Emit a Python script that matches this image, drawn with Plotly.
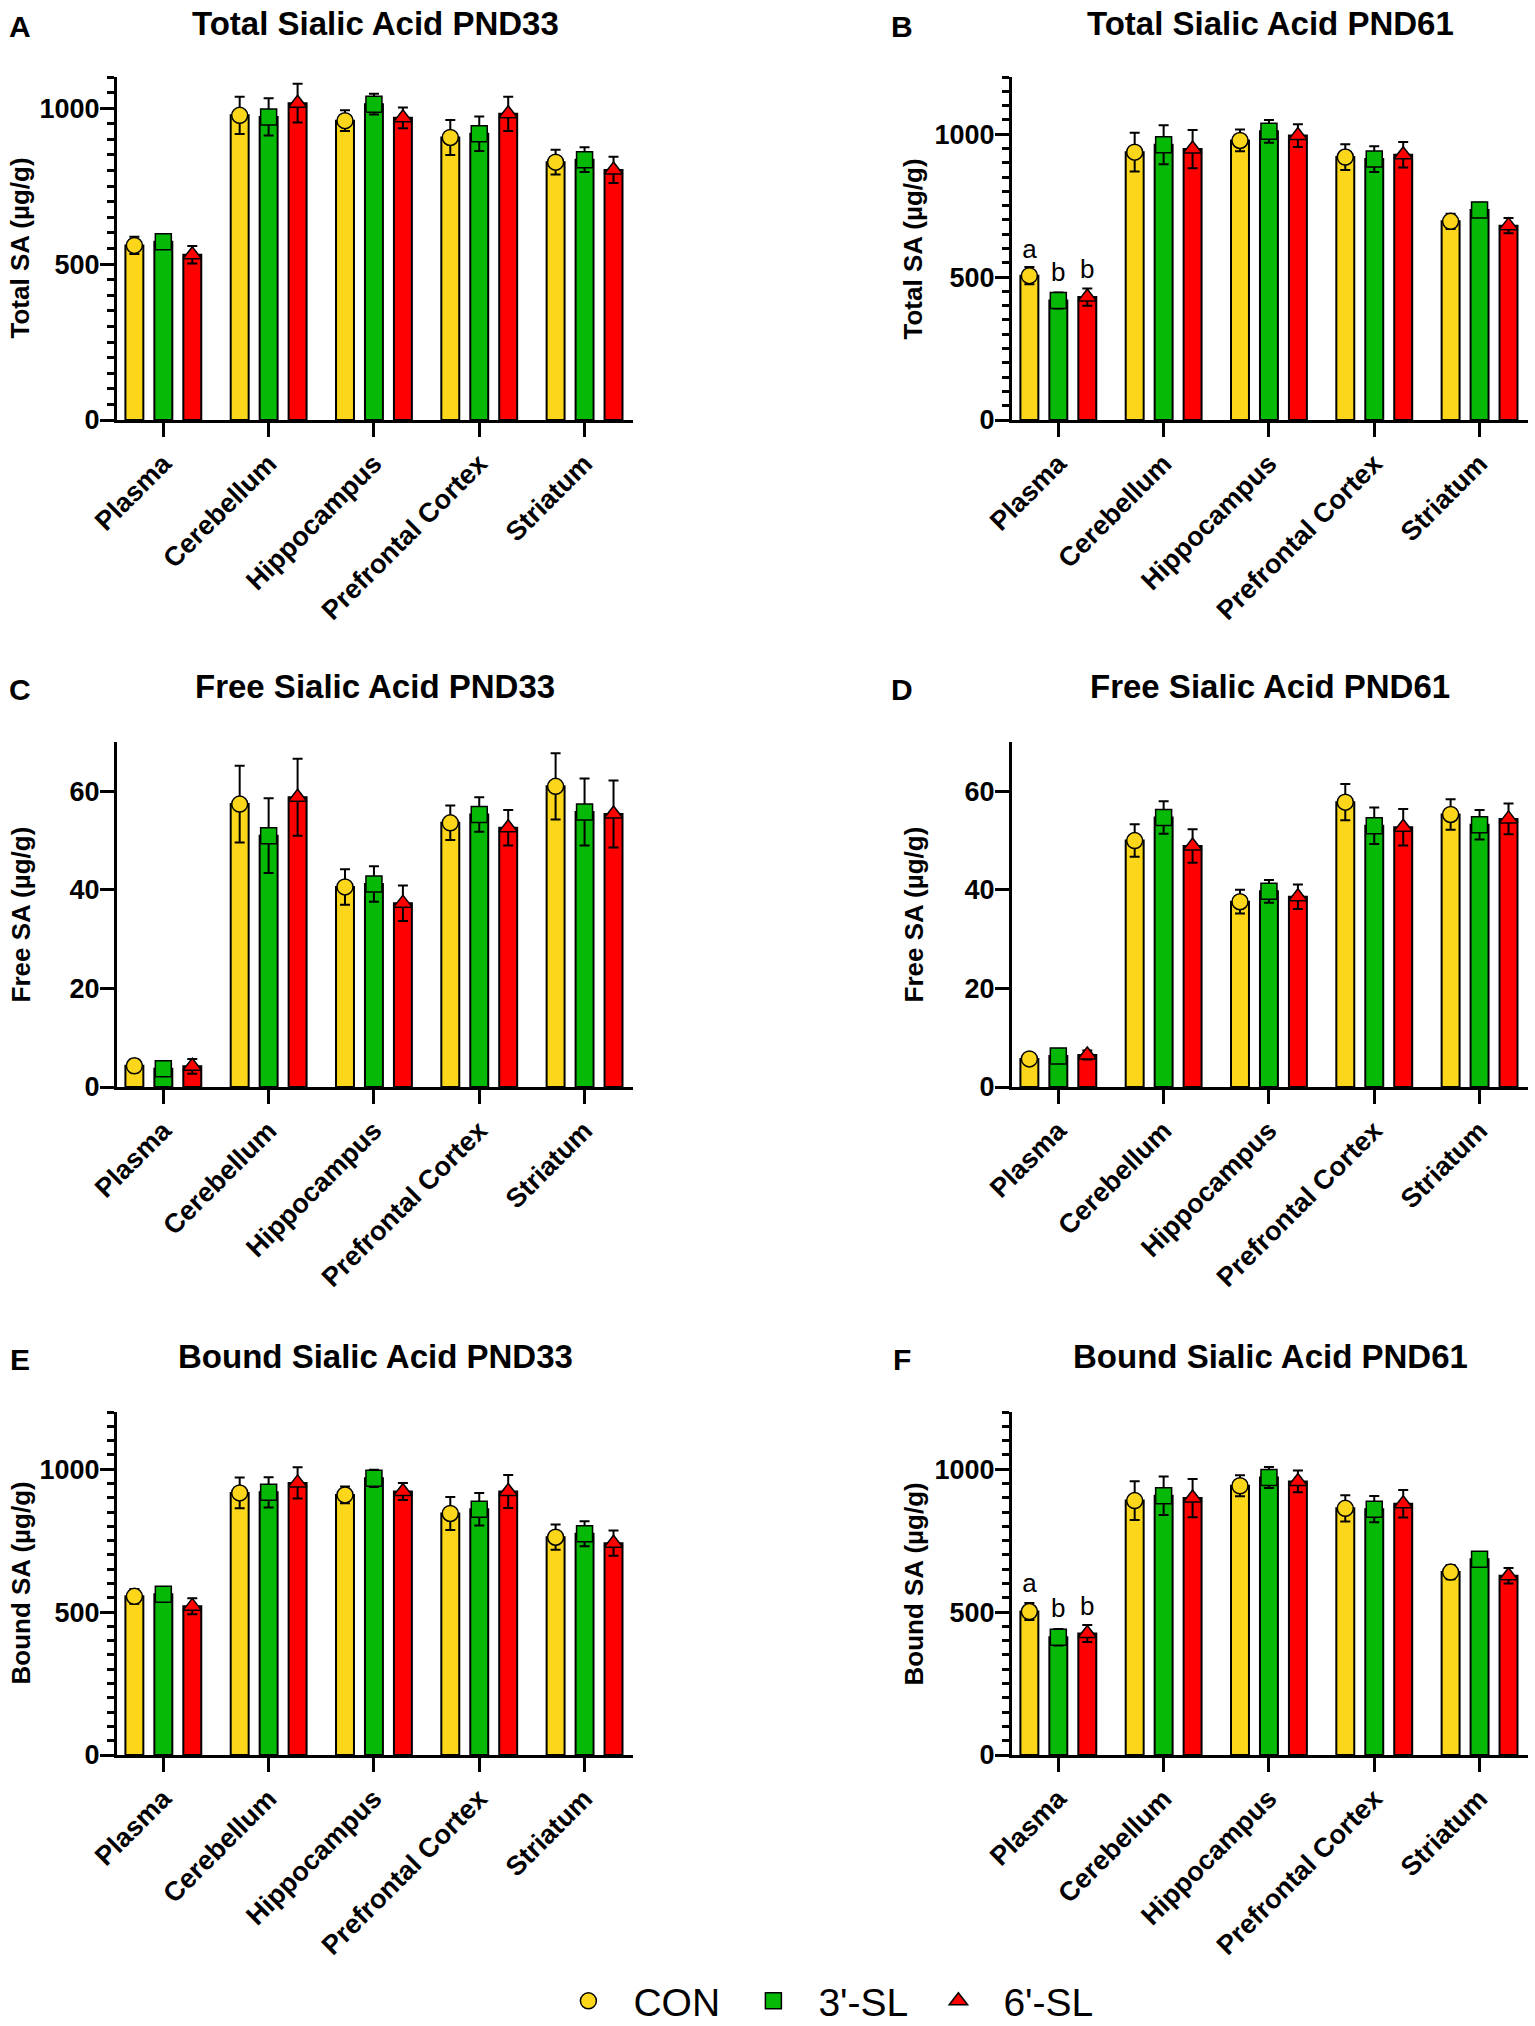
import plotly.graph_objects as go

categories = ["Plasma", "Cerebellum", "Hippocampus", "Prefrontal Cortex", "Striatum"]
groups = ["CON", "3'-SL", "6'-SL"]
colors = ["#FBD61A", "#06B906", "#FE0000"]
symbols = ["circle", "square", "triangle-up"]

# A - Total sialic acid PND33 (mean, sem)
total33_con = [560, 977, 960, 906, 827]
total33_con_err = [28, 60, 33, 56, 40]
total33_3sl = [572, 972, 1013, 918, 835]
total33_3sl_err = [18, 60, 33, 55, 40]
total33_6sl = [530, 1016, 969, 982, 802]
total33_6sl_err = [28, 62, 33, 55, 42]

# B - Total sialic acid PND61
total61_con = [505, 937, 978, 920, 695]
total61_con_err = [30, 68, 38, 45, 27]
total61_3sl = [418, 963, 1010, 913, 735]
total61_3sl_err = [28, 68, 40, 45, 25]
total61_6sl = [430, 948, 995, 928, 680]
total61_6sl_err = [30, 67, 40, 45, 27]

# C - Free sialic acid PND33
free33_con = [4.3, 57.4, 40.6, 53.6, 61.0]
free33_con_err = [1.3, 7.8, 3.6, 3.5, 6.7]
free33_3sl = [3.7, 51.0, 41.2, 55.3, 55.8]
free33_3sl_err = [0.8, 7.6, 3.6, 3.5, 6.8]
free33_6sl = [4.2, 58.8, 37.3, 52.6, 55.4]
free33_6sl_err = [1.5, 7.8, 3.6, 3.6, 6.8]

# D - Free sialic acid PND61
free61_con = [5.7, 50.0, 37.6, 57.8, 55.3]
free61_con_err = [0.7, 3.3, 2.4, 3.7, 3.1]
free61_3sl = [6.3, 54.7, 39.7, 53.0, 53.2]
free61_3sl_err = [1.0, 3.3, 2.3, 3.7, 3.0]
free61_6sl = [6.5, 48.9, 38.6, 52.7, 54.4]
free61_6sl_err = [0.9, 3.4, 2.5, 3.7, 3.1]

# E - Bound sialic acid PND33
bound33_con = [555, 917, 910, 845, 762]
bound33_con_err = [26, 54, 29, 58, 44]
bound33_3sl = [562, 919, 968, 860, 774]
bound33_3sl_err = [25, 53, 30, 57, 44]
bound33_6sl = [520, 952, 922, 922, 741]
bound33_6sl_err = [28, 55, 30, 58, 44]

# F - Bound sialic acid PND61
bound61_con = [502, 890, 942, 863, 640]
bound61_con_err = [30, 68, 37, 46, 25]
bound61_3sl = [412, 907, 971, 860, 685]
bound61_3sl_err = [29, 67, 37, 46, 25]
bound61_6sl = [425, 899, 957, 879, 627]
bound61_6sl_err = [30, 67, 38, 48, 27]

# significance letters over plasma (text, height)
total61_letters = ["a", "b", "b"]
total61_letter_y = [590, 509, 520]
bound61_letters = ["a", "b", "b"]
bound61_letter_y = [593, 506, 514]

panels = [
    dict(letter="A", title="Total Sialic Acid PND33", ytitle="Total SA (µg/g)",
         vals=[total33_con, total33_3sl, total33_6sl],
         errs=[total33_con_err, total33_3sl_err, total33_6sl_err],
         yrange=[0, 1100], dtick=500, minor=50, letters=None),
    dict(letter="B", title="Total Sialic Acid PND61", ytitle="Total SA (µg/g)",
         vals=[total61_con, total61_3sl, total61_6sl],
         errs=[total61_con_err, total61_3sl_err, total61_6sl_err],
         yrange=[0, 1200], dtick=500, minor=50,
         letters=(total61_letters, total61_letter_y)),
    dict(letter="C", title="Free Sialic Acid PND33", ytitle="Free SA (µg/g)",
         vals=[free33_con, free33_3sl, free33_6sl],
         errs=[free33_con_err, free33_3sl_err, free33_6sl_err],
         yrange=[0, 70], dtick=20, minor=None, letters=None),
    dict(letter="D", title="Free Sialic Acid PND61", ytitle="Free SA (µg/g)",
         vals=[free61_con, free61_3sl, free61_6sl],
         errs=[free61_con_err, free61_3sl_err, free61_6sl_err],
         yrange=[0, 70], dtick=20, minor=None, letters=None),
    dict(letter="E", title="Bound Sialic Acid PND33", ytitle="Bound SA (µg/g)",
         vals=[bound33_con, bound33_3sl, bound33_6sl],
         errs=[bound33_con_err, bound33_3sl_err, bound33_6sl_err],
         yrange=[0, 1200], dtick=500, minor=50, letters=None),
    dict(letter="F", title="Bound Sialic Acid PND61", ytitle="Bound SA (µg/g)",
         vals=[bound61_con, bound61_3sl, bound61_6sl],
         errs=[bound61_con_err, bound61_3sl_err, bound61_6sl_err],
         yrange=[0, 1200], dtick=500, minor=50,
         letters=(bound61_letters, bound61_letter_y)),
]

W, H = 1535, 2026
FONT = "Liberation Sans, Arial, sans-serif"

col_x = [(117, 633), (1012, 1528)]
row_y = [(77, 420), (742, 1087), (1412, 1755)]
title_y = [24, 687, 1356]
letter_x = [20, 902]
ytitle_x = [20, 913]

fig = go.Figure()
layout = {}
annotations = []

for i, p in enumerate(panels):
    r, c = divmod(i, 2)
    k = i + 1
    xa = "x" if k == 1 else f"x{k}"
    ya = "y" if k == 1 else f"y{k}"

    for g in range(3):
        fig.add_trace(go.Bar(
            x=categories, y=p["vals"][g], xaxis=xa, yaxis=ya,
            offsetgroup=str(g), marker=dict(color=colors[g], line=dict(color="black", width=2)),
            showlegend=False, hoverinfo="skip"))
    for g in range(3):
        fig.add_trace(go.Scatter(
            x=categories, y=p["vals"][g], xaxis=xa, yaxis=ya,
            offsetgroup=str(g), mode="markers", name=groups[g], legendgroup=groups[g],
            showlegend=(i == 0),
            marker=dict(symbol=symbols[g], size=16, color=colors[g],
                        line=dict(color="black", width=1.5)),
            error_y=dict(type="data", array=p["errs"][g], color="black",
                         thickness=2, width=5)))
    if p["letters"]:
        txt, ys = p["letters"]
        for g in range(3):
            fig.add_trace(go.Scatter(
                x=categories[:1], y=[ys[g]], xaxis=xa, yaxis=ya,
                offsetgroup=str(g), mode="text", text=[txt[g]],
                textfont=dict(size=26, color="black", family=FONT),
                showlegend=False, hoverinfo="skip"))

    x0, x1 = col_x[c]
    y0, y1 = row_y[r]
    xdict = dict(domain=[x0 / W, x1 / W], anchor=ya, range=[-0.44, 4.46],
                 showline=True, linewidth=3, linecolor="black",
                 ticks="outside", ticklen=14, tickwidth=3, tickcolor="black",
                 tickangle=-45, tickfont=dict(size=27, color="black", family=FONT, weight="bold"),
                 showgrid=False, zeroline=False, fixedrange=True)
    ydict = dict(domain=[1 - y1 / H, 1 - y0 / H], anchor=xa, range=p["yrange"],
                 tick0=0, dtick=p["dtick"], ticklabelstandoff=-5,
                 showline=True, linewidth=3, linecolor="black",
                 ticks="outside", ticklen=14, tickwidth=3, tickcolor="black",
                 tickfont=dict(size=27, color="black", family=FONT, weight="bold"),
                 showgrid=False, zeroline=False, fixedrange=True)
    if p["minor"]:
        ydict["minor"] = dict(dtick=p["minor"], tick0=0, ticks="outside", ticklen=7,
                              tickwidth=2.5, tickcolor="black", showgrid=False)
    layout["xaxis" if k == 1 else f"xaxis{k}"] = xdict
    layout["yaxis" if k == 1 else f"yaxis{k}"] = ydict

    annotations.append(dict(
        text=f"<b>{p['title']}</b>", xref="paper", yref="paper",
        x=(x0 + x1) / 2 / W, y=1 - title_y[r] / H, xanchor="center", yanchor="middle",
        showarrow=False, font=dict(size=33, color="black", family=FONT)))
    annotations.append(dict(
        text=f"<b>{p['letter']}</b>", xref="paper", yref="paper",
        x=letter_x[c] / W, y=1 - (title_y[r] + 3) / H, xanchor="center", yanchor="middle",
        showarrow=False, font=dict(size=30, color="black", family=FONT)))
    annotations.append(dict(
        text=f"<b>{p['ytitle']}</b>", xref="paper", yref="paper", textangle=-90,
        x=ytitle_x[c] / W, y=1 - (y0 + y1) / 2 / H, xanchor="center", yanchor="middle",
        showarrow=False, font=dict(size=26, color="black", family=FONT)))

fig.update_layout(
    **layout,
    annotations=annotations,
    width=W, height=H,
    margin=dict(l=0, r=0, t=0, b=0, autoexpand=False),
    paper_bgcolor="white", plot_bgcolor="white",
    barmode="group", bargap=0.175, bargroupgap=0.38,
    scattermode="group", scattergap=0.175,
    font=dict(family=FONT, color="black"),
    legend=dict(orientation="h", x=0.354, xanchor="left", y=1 - 2001 / H, yanchor="middle",
                font=dict(size=39, color="black", family=FONT),
                itemsizing="trace", itemwidth=80, entrywidth=90,
                bgcolor="rgba(0,0,0,0)"),
)

fig.write_html(
    "out.html",
    config={"displayModeBar": False},
    post_script="document.body.style.margin='0';document.documentElement.style.overflow='hidden';",
)
